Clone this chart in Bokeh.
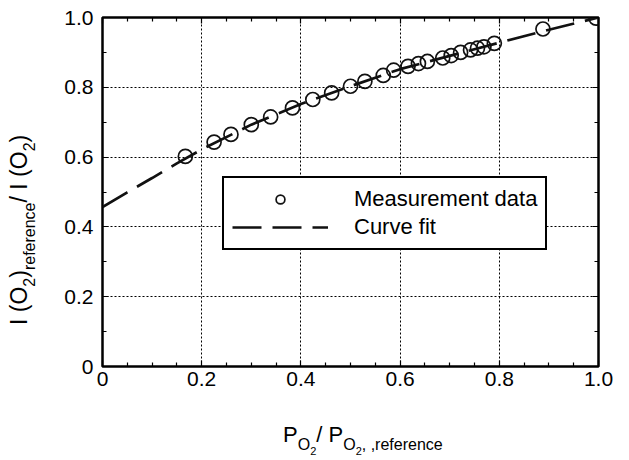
from bokeh.plotting import figure
from bokeh.layouts import row, column
from bokeh.models import (Range1d, LinearAxis, FixedTicker, CustomJSTickFormatter,
                          Legend, LegendItem, Grid, Div)
from bokeh.embed import file_html
from bokeh.resources import INLINE

# ---- data ----
RATIO_P = [0.167, 0.225, 0.259, 0.300, 0.339, 0.383, 0.424, 0.462, 0.500, 0.529,
           0.566, 0.587, 0.616, 0.637, 0.655, 0.686, 0.703, 0.722, 0.742, 0.756,
           0.769, 0.790, 0.888, 0.995]
RATIO_I = [0.602, 0.643, 0.665, 0.693, 0.715, 0.741, 0.765, 0.784, 0.803, 0.817,
           0.834, 0.849, 0.860, 0.868, 0.874, 0.884, 0.891, 0.900, 0.907, 0.912,
           0.916, 0.926, 0.967, 0.998]
FIT_P = [0.0, 0.05, 0.1, 0.15, 0.2, 0.3, 0.4, 0.5, 0.6, 0.7, 0.8, 0.9, 1.0]
FIT_I = [0.457, 0.499, 0.540, 0.582, 0.622, 0.693, 0.752, 0.803, 0.852, 0.890, 0.928, 0.965, 1.0]

X_TICKS = [0.0, 0.2, 0.4, 0.6, 0.8, 1.0]
X_MINOR = [0.05, 0.1, 0.15, 0.25, 0.3, 0.35, 0.45, 0.5, 0.55, 0.65, 0.7, 0.75, 0.85, 0.9, 0.95]
Y_TICKS = [0.0, 0.2, 0.4, 0.6, 0.8, 1.0]
Y_MINOR = [0.1, 0.3, 0.5, 0.7, 0.9]

LEGEND_LABELS = ["Measurement data", "Curve fit"]

FONT = "Liberation Sans"
INK = "#111111"

p = figure(width=581, height=400, x_range=Range1d(0, 1), y_range=Range1d(0, 1),
           output_backend="svg", toolbar_location=None,
           x_axis_location=None, y_axis_location=None,
           min_border_left=62, min_border_right=23, min_border_top=17, min_border_bottom=34)
p.outline_line_color = "black"
p.outline_line_width = 2.5
p.outline_line_alpha = 1.0
p.xgrid.visible = False
p.ygrid.visible = False

fmt = CustomJSTickFormatter(code="return tick == 0 ? '0' : tick.toFixed(1);")
blank = CustomJSTickFormatter(code="return '';")
xt = FixedTicker(ticks=X_TICKS, minor_ticks=X_MINOR)
yt = FixedTicker(ticks=Y_TICKS, minor_ticks=Y_MINOR)


def style(ax, show):
    ax.axis_line_color = None
    ax.major_tick_in = 6
    ax.major_tick_out = 0
    ax.minor_tick_in = 4
    ax.minor_tick_out = 0
    ax.major_tick_line_width = 1.2
    ax.minor_tick_line_width = 1.2
    ax.major_tick_line_color = "black"
    ax.minor_tick_line_color = "black"
    if show:
        ax.major_label_text_font = FONT
        ax.major_label_text_font_size = "21px"
        ax.major_label_text_color = "black"
    else:
        ax.major_label_text_font_size = "1px"
        ax.major_label_standoff = 0


bx = LinearAxis(ticker=xt, formatter=fmt)
style(bx, True)
bx.major_label_standoff = 5
p.add_layout(bx, "below")
ly = LinearAxis(ticker=yt, formatter=fmt)
style(ly, True)
ly.major_label_standoff = 9
p.add_layout(ly, "left")
tx = LinearAxis(ticker=xt, formatter=blank)
style(tx, False)
p.add_layout(tx, "above")
ry = LinearAxis(ticker=yt, formatter=blank)
style(ry, False)
p.add_layout(ry, "right")

for dim, tk in ((0, xt), (1, yt)):
    g = Grid(dimension=dim, ticker=tk, grid_line_color="black",
             grid_line_dash="2 2", grid_line_width=1)
    p.add_layout(g)

r_fit = p.line(FIT_P, FIT_I, line_color=INK, line_width=2.7, line_dash="29 11")
r_pts = p.scatter(RATIO_P, RATIO_I, marker="circle", size=14, fill_color=None,
                  line_color=INK, line_width=1.7)

legend = Legend(items=[LegendItem(label=LEGEND_LABELS[0], renderers=[r_pts]),
                       LegendItem(label=LEGEND_LABELS[1], renderers=[r_fit])],
                location=(120, 116), border_line_color="black", border_line_width=2,
                border_line_alpha=1.0, padding=8, spacing=2, margin=0,
                glyph_width=96, glyph_height=22, label_standoff=26,
                label_text_font=FONT, label_text_font_size="22px",
                label_text_color="black", label_height=22,
                background_fill_color="white", background_fill_alpha=1.0)
p.add_layout(legend)


# ---- axis titles (with sub/sub-subscripts) as HTML text ----
def sub(t, size, drop):
    return f'<span style="font-size:{size}px;position:relative;top:{drop}px">{t}</span>'


def base(size):
    return ("white-space:nowrap;font-family:'Liberation Sans';"
            f"font-size:{size}px;line-height:{size}px;color:black;")


x_html = ('<div style="position:relative;width:581px;height:53px;">'
          f'<div style="position:absolute;left:243px;top:24px;{base(22)}">'
          'P' + sub('O', 16, 8) + sub('2', 11, 13) + '/ P' + sub('O', 16, 8)
          + sub('2', 11, 13) + sub(', ,reference', 16, 8) + '</div></div>')

y_html = ('<div style="position:relative;width:40px;height:453px;">'
          f'<div style="position:absolute;left:8px;top:325px;transform-origin:0 0;'
          f'transform:rotate(-90deg);{base(23)}">'
          'I (O' + sub('2', 16, 8) + ')' + sub('reference', 16, 8) + '/ I (O'
          + sub('2', 16, 8) + ')</div></div>')

x_div = Div(text=x_html, width=581, height=53, margin=0)
y_div = Div(text=y_html, width=40, height=453, margin=0)

layout = row(y_div, column(p, x_div, spacing=0), spacing=0)

open("out.html", "w").write(file_html(layout, INLINE))
